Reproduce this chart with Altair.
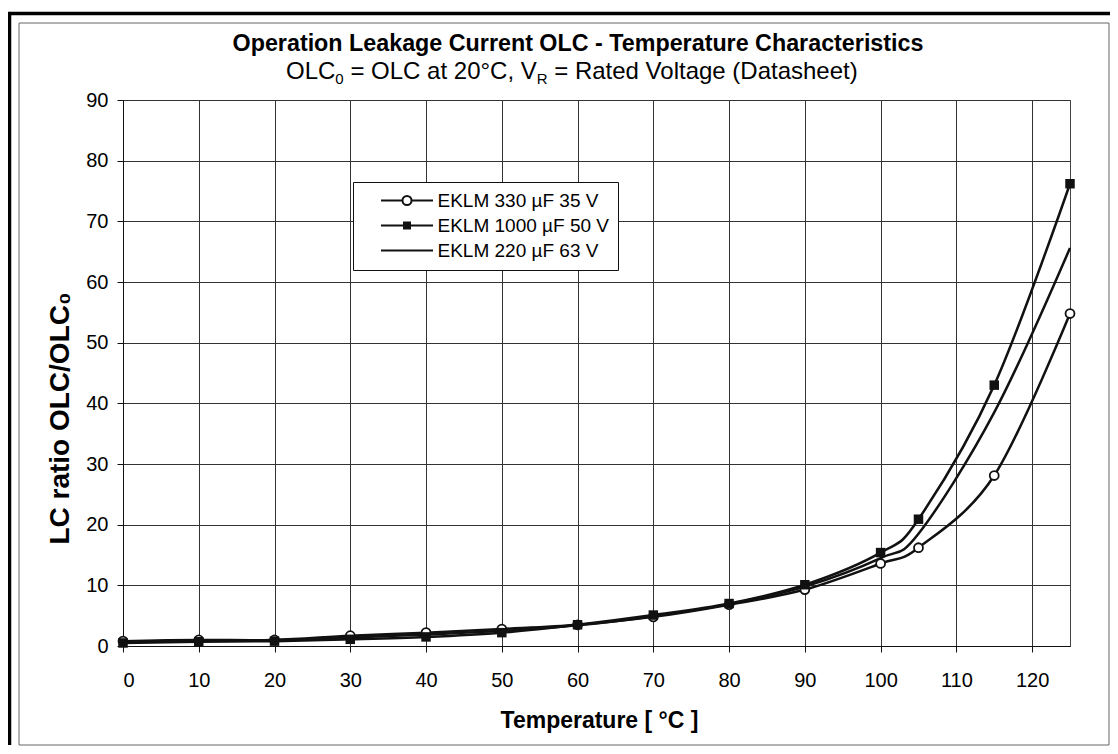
import altair as alt
import pandas as pd

# ---------------- data ----------------
temps = [0, 10, 20, 30, 40, 50, 60, 70, 80, 90, 100, 105, 115, 125]
olc_330_35 = [0.8, 1.0, 1.0, 1.7, 2.2, 2.8, 3.5, 4.8, 6.8, 9.3, 13.6, 16.2, 28.1, 54.8]
olc_1000_50 = [0.5, 0.7, 0.8, 1.1, 1.5, 2.2, 3.5, 5.1, 7.0, 10.1, 15.4, 20.9, 43.0, 76.2]
olc_220_63 = [0.7, 0.9, 1.0, 1.4, 1.9, 2.5, 3.4, 4.9, 6.9, 9.8, 14.5, 18.5, 38.5, 65.6]
series_names = ["EKLM 330 µF 35 V", "EKLM 1000 µF 50 V", "EKLM 220 µF 63 V"]
x_ticks = [0, 10, 20, 30, 40, 50, 60, 70, 80, 90, 100, 110, 120]
y_ticks = [0, 10, 20, 30, 40, 50, 60, 70, 80, 90]

rows = []
for name, vals in zip(series_names, [olc_330_35, olc_1000_50, olc_220_63]):
    for t, v in zip(temps, vals):
        rows.append({"T": t, "ratio": v, "series": name})
df = pd.DataFrame(rows)

FONT = "Liberation Sans, Arial, sans-serif"
INK = "#111111"
GRID = "#333333"
W, H = 947, 546

x_enc = alt.X(
    "T:Q",
    scale=alt.Scale(domain=[0, 125], nice=False),
    axis=alt.Axis(
        values=x_ticks, grid=True, gridColor=GRID, gridWidth=1,
        tickSize=6, tickColor=INK, domainColor=INK,
        labelFont=FONT, labelFontSize=20, labelColor="black", labelPadding=18,
        title="Temperature [ °C ]", titleFont=FONT, titleFontSize=23,
        titleFontWeight="bold", titleColor="black",
        titleX=476, titleY=81, titleBaseline="alphabetic", titleAlign="center",
    ),
)
y_enc = alt.Y(
    "ratio:Q",
    scale=alt.Scale(domain=[0, 90], nice=False),
    axis=alt.Axis(
        values=y_ticks, grid=True, gridColor=GRID, gridWidth=1,
        tickSize=6, tickColor=INK, domainColor=INK,
        labelFont=FONT, labelFontSize=20, labelColor="black", labelPadding=9,
        title="LC ratio OLC/OLC₀", titleFont=FONT, titleFontSize=28,
        titleFontWeight="bold", titleColor="black",
        titleX=-55, titleY=318, titleAngle=270, titleBaseline="alphabetic",
        titleAlign="center",
    ),
)

base = alt.Chart(df).encode(x=x_enc, y=y_enc)

lines = base.mark_line(interpolate="cardinal", color=INK, strokeWidth=2.5).encode(
    detail="series:N"
)
circles = base.transform_filter(alt.datum.series == series_names[0]).mark_point(
    shape="circle", filled=True, fill="white", stroke=INK, strokeWidth=1.8,
    size=80, opacity=1,
)
squares = base.transform_filter(alt.datum.series == series_names[1]).mark_point(
    shape="square", filled=True, color=INK, size=90, opacity=1,
)

# legend symbols: line with marker, in units of 7 px (symbolSize 196)
L = 3.714
circle_path = (
    f"M{-L},0L-0.643,0M0.643,0L{L},0"
    "M0.643,0A0.643,0.643,0,1,1,-0.643,0A0.643,0.643,0,1,1,0.643,0Z"
)
square_path = (
    f"M{-L},0L{L},0"
    "M-0.4286,-0.4286L0.4286,-0.4286L0.4286,0.4286L-0.4286,0.4286Z"
    "M-0.1429,-0.1429L0.1429,-0.1429L0.1429,0.1429L-0.1429,0.1429Z"
)
line_path = f"M{-L},0L{L},0"

legend_layer = base.transform_filter(alt.datum.T < 0).mark_point(
    filled=False, color=INK, strokeWidth=2, opacity=1
).encode(
    shape=alt.Shape(
        "series:N",
        scale=alt.Scale(domain=series_names, range=[circle_path, square_path, line_path]),
        legend=alt.Legend(
            title=None, orient="none", legendX=230, legendY=82, padding=9,
            strokeColor=INK, fillColor="white",
            symbolSize=196, symbolStrokeWidth=2, symbolStrokeColor=INK,
            symbolOffset=35.5, labelOffset=21,
            labelFont=FONT, labelFontSize=19, labelColor="black", labelLimit=400,
            rowPadding=5,
        ),
    )
)

one = pd.DataFrame({"k": [0]})

frame = alt.Chart(one).mark_rect(fill="white", fillOpacity=0, stroke="#666666", strokeWidth=1).encode(
    x=alt.value(-104), x2=alt.value(986), y=alt.value(-77), y2=alt.value(645)
)
thick_top = alt.Chart(one).mark_rule(color="black", strokeWidth=3.5).encode(
    x=alt.value(-115), x2=alt.value(987), y=alt.value(-86.5)
)
thick_left = alt.Chart(one).mark_rule(color="black", strokeWidth=3.5).encode(
    x=alt.value(-113.5), y=alt.value(-88), y2=alt.value(645)
)

def txt(s, x, y, size, weight="normal", align="left"):
    return alt.Chart(one).mark_text(
        text=s, font=FONT, fontSize=size, fontWeight=weight, align=align,
        baseline="alphabetic", color="black",
    ).encode(x=alt.value(x), y=alt.value(y))

title = txt("Operation Leakage Current OLC - Temperature Characteristics", 455, -49.5, 23.3, "bold", "center")
sub_a = txt("OLC", 163, -21, 24)
sub_b = txt("0", 212.3, -16, 15)
sub_c = txt("= OLC at 20°C, V", 227.4, -21, 24)
sub_d = txt("R", 413.7, -16, 15)
sub_e = txt("= Rated Voltage (Datasheet)", 431.2, -21, 24)

chart = alt.layer(
    frame, thick_top, thick_left,
    lines, circles, squares, legend_layer,
    title, sub_a, sub_b, sub_c, sub_d, sub_e,
).properties(
    width=W, height=H,
    autosize=alt.AutoSizeParams(type="none"),
    padding={"left": 115, "top": 92, "right": 40, "bottom": 100},
    background="white",
).configure_view(stroke="#444444", strokeWidth=1)

chart.save("out.html", embed_options={"renderer": "svg", "actions": False})
